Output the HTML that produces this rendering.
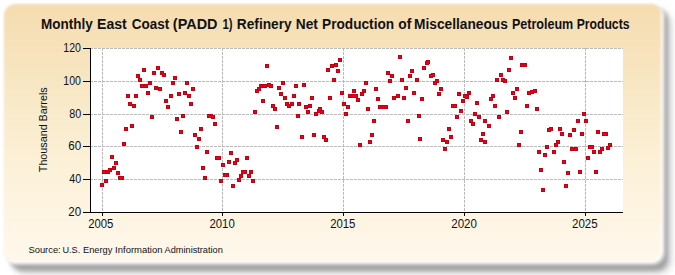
<!DOCTYPE html>
<html><head><meta charset="utf-8"><style>
html,body{margin:0;padding:0;width:675px;height:275px;overflow:hidden;background:#fff;}
.sh2{position:absolute;left:12px;top:11px;width:660px;height:263px;border-radius:14px;background:rgba(0,0,10,0.15);filter:blur(3px);}
.shadow{position:absolute;left:9.5px;top:8px;width:658px;height:263px;border-radius:12px;background:rgba(40,40,45,0.3);filter:blur(2.3px);}
.panel{position:absolute;left:3.5px;top:3.5px;width:659.5px;height:259.5px;border-radius:12px;filter:blur(0.9px);
background:linear-gradient(to bottom,#f6dcb0 0%,#f8e9c8 37%,#fcf0d7 60%,#fff8ec 100%);
box-shadow:inset -2px -2px 1.5px rgba(255,255,255,0.85), 1px 1px 2px 0.5px rgba(255,255,255,0.6), 0 0 1px rgba(140,130,90,0.5);}
svg{position:absolute;left:0;top:0;}
text{font-family:"Liberation Sans",sans-serif;fill:#111;}
</style></head><body>
<div class="sh2"></div><div class="shadow"></div><div class="panel"></div>
<svg width="675" height="275" viewBox="0 0 675 275" shape-rendering="crispEdges">
<rect x="91" y="48" width="532" height="164" fill="#fff"/>
<line x1="91" y1="48.5" x2="623" y2="48.5" stroke="#bababa" stroke-width="1" stroke-dasharray="3,1" stroke-dashoffset="1"/>
<line x1="91" y1="81.5" x2="623" y2="81.5" stroke="#bababa" stroke-width="1" stroke-dasharray="3,1" stroke-dashoffset="1"/>
<line x1="91" y1="114.5" x2="623" y2="114.5" stroke="#bababa" stroke-width="1" stroke-dasharray="3,1" stroke-dashoffset="1"/>
<line x1="91" y1="146.5" x2="623" y2="146.5" stroke="#bababa" stroke-width="1" stroke-dasharray="3,1" stroke-dashoffset="1"/>
<line x1="91" y1="179.5" x2="623" y2="179.5" stroke="#bababa" stroke-width="1" stroke-dasharray="3,1" stroke-dashoffset="1"/>
<line x1="102.5" y1="48" x2="102.5" y2="212" stroke="#bababa" stroke-width="1" stroke-dasharray="3,1"/>
<line x1="222.5" y1="48" x2="222.5" y2="212" stroke="#bababa" stroke-width="1" stroke-dasharray="3,1"/>
<line x1="343.5" y1="48" x2="343.5" y2="212" stroke="#bababa" stroke-width="1" stroke-dasharray="3,1"/>
<line x1="464.5" y1="48" x2="464.5" y2="212" stroke="#bababa" stroke-width="1" stroke-dasharray="3,1"/>
<line x1="585.5" y1="48" x2="585.5" y2="212" stroke="#bababa" stroke-width="1" stroke-dasharray="3,1"/>
<path d="M142 68h4v4h-4zM156 66h4v4h-4zM136 74h4v4h-4zM152 71h4v4h-4zM160 71h4v4h-4zM162 73h4v4h-4zM173 76h4v4h-4zM138 78h4v4h-4zM148 81h4v4h-4zM171 81h4v4h-4zM185 81h4v4h-4zM140 84h4v4h-4zM144 84h4v4h-4zM154 86h4v4h-4zM158 87h4v4h-4zM191 87h4v4h-4zM146 91h4v4h-4zM126 94h4v4h-4zM134 94h4v4h-4zM169 94h4v4h-4zM177 92h4v4h-4zM183 91h4v4h-4zM187 94h4v4h-4zM164 99h4v4h-4zM128 102h4v4h-4zM132 104h4v4h-4zM166 105h4v4h-4zM189 102h4v4h-4zM150 115h4v4h-4zM175 117h4v4h-4zM181 114h4v4h-4zM207 114h4v4h-4zM211 115h4v4h-4zM213 122h4v4h-4zM124 127h4v4h-4zM130 124h4v4h-4zM179 130h4v4h-4zM199 127h4v4h-4zM193 133h4v4h-4zM197 137h4v4h-4zM122 142h4v4h-4zM195 145h4v4h-4zM205 150h4v4h-4zM110 155h4v4h-4zM114 161h4v4h-4zM102 170h4v4h-4zM106 170h4v4h-4zM108 168h4v4h-4zM112 166h4v4h-4zM116 171h4v4h-4zM118 176h4v4h-4zM120 176h4v4h-4zM104 179h4v4h-4zM100 183h4v4h-4zM215 156h4v4h-4zM217 156h4v4h-4zM221 163h4v4h-4zM201 166h4v4h-4zM203 176h4v4h-4zM219 179h4v4h-4zM223 173h4v4h-4zM265 64h4v4h-4zM338 58h4v4h-4zM330 64h4v4h-4zM334 63h4v4h-4zM326 68h4v4h-4zM336 69h4v4h-4zM332 78h4v4h-4zM255 89h4v4h-4zM257 87h4v4h-4zM259 84h4v4h-4zM263 84h4v4h-4zM267 83h4v4h-4zM269 84h4v4h-4zM281 81h4v4h-4zM277 86h4v4h-4zM294 84h4v4h-4zM302 83h4v4h-4zM279 92h4v4h-4zM283 96h4v4h-4zM292 94h4v4h-4zM310 96h4v4h-4zM328 96h4v4h-4zM340 91h4v4h-4zM348 94h4v4h-4zM352 94h4v4h-4zM352 89h4v4h-4zM261 99h4v4h-4zM271 104h4v4h-4zM273 107h4v4h-4zM285 102h4v4h-4zM287 104h4v4h-4zM290 102h4v4h-4zM297 102h4v4h-4zM304 105h4v4h-4zM308 104h4v4h-4zM306 110h4v4h-4zM318 107h4v4h-4zM317 109h4v4h-4zM320 110h4v4h-4zM314 112h4v4h-4zM253 110h4v4h-4zM296 114h4v4h-4zM342 102h4v4h-4zM346 105h4v4h-4zM344 112h4v4h-4zM275 125h4v4h-4zM300 135h4v4h-4zM312 133h4v4h-4zM322 135h4v4h-4zM324 138h4v4h-4zM229 151h4v4h-4zM235 158h4v4h-4zM233 161h4v4h-4zM227 160h4v4h-4zM245 156h4v4h-4zM225 173h4v4h-4zM241 170h4v4h-4zM243 170h4v4h-4zM249 170h4v4h-4zM239 174h4v4h-4zM247 174h4v4h-4zM237 178h4v4h-4zM251 179h4v4h-4zM231 184h4v4h-4zM398 55h4v4h-4zM425 61h4v4h-4zM426 60h4v4h-4zM422 66h4v4h-4zM410 69h4v4h-4zM386 71h4v4h-4zM390 74h4v4h-4zM408 74h4v4h-4zM429 74h4v4h-4zM431 73h4v4h-4zM388 79h4v4h-4zM400 78h4v4h-4zM415 78h4v4h-4zM433 81h4v4h-4zM435 79h4v4h-4zM364 81h4v4h-4zM374 87h4v4h-4zM404 86h4v4h-4zM439 87h4v4h-4zM362 89h4v4h-4zM360 92h4v4h-4zM351 94h4v4h-4zM354 94h4v4h-4zM412 91h4v4h-4zM437 92h4v4h-4zM457 92h4v4h-4zM467 91h4v4h-4zM463 94h4v4h-4zM465 95h4v4h-4zM396 94h4v4h-4zM392 96h4v4h-4zM402 96h4v4h-4zM376 97h4v4h-4zM420 97h4v4h-4zM356 98h4v4h-4zM461 99h4v4h-4zM366 107h4v4h-4zM378 105h4v4h-4zM381 105h4v4h-4zM384 105h4v4h-4zM451 104h4v4h-4zM453 104h4v4h-4zM459 109h4v4h-4zM475 101h4v4h-4zM473 112h4v4h-4zM477 115h4v4h-4zM469 119h4v4h-4zM471 122h4v4h-4zM483 119h4v4h-4zM417 114h4v4h-4zM455 115h4v4h-4zM372 119h4v4h-4zM406 119h4v4h-4zM447 127h4v4h-4zM370 133h4v4h-4zM449 135h4v4h-4zM368 140h4v4h-4zM418 137h4v4h-4zM441 138h4v4h-4zM445 140h4v4h-4zM358 143h4v4h-4zM443 147h4v4h-4zM481 132h4v4h-4zM479 138h4v4h-4zM483 140h4v4h-4zM509 56h4v4h-4zM520 63h4v4h-4zM523 63h4v4h-4zM507 68h4v4h-4zM499 73h4v4h-4zM495 78h4v4h-4zM501 78h4v4h-4zM503 79h4v4h-4zM515 87h4v4h-4zM511 91h4v4h-4zM527 91h4v4h-4zM530 90h4v4h-4zM533 89h4v4h-4zM491 94h4v4h-4zM489 97h4v4h-4zM513 96h4v4h-4zM493 104h4v4h-4zM525 104h4v4h-4zM535 107h4v4h-4zM505 110h4v4h-4zM497 115h4v4h-4zM582 112h4v4h-4zM584 119h4v4h-4zM576 119h4v4h-4zM487 124h4v4h-4zM519 130h4v4h-4zM547 128h4v4h-4zM549 127h4v4h-4zM558 127h4v4h-4zM560 132h4v4h-4zM572 128h4v4h-4zM568 133h4v4h-4zM580 132h4v4h-4zM596 130h4v4h-4zM602 132h4v4h-4zM604 132h4v4h-4zM517 143h4v4h-4zM545 145h4v4h-4zM554 143h4v4h-4zM556 140h4v4h-4zM570 147h4v4h-4zM574 147h4v4h-4zM588 145h4v4h-4zM590 145h4v4h-4zM600 147h4v4h-4zM606 146h4v4h-4zM608 143h4v4h-4zM537 150h4v4h-4zM543 153h4v4h-4zM552 150h4v4h-4zM592 150h4v4h-4zM598 150h4v4h-4zM586 156h4v4h-4zM562 160h4v4h-4zM539 168h4v4h-4zM566 171h4v4h-4zM578 170h4v4h-4zM594 170h4v4h-4zM564 184h4v4h-4zM541 188h4v4h-4zM209 114h4v4h-4z" fill="#c4000f"/>
<path d="M143 69h2v2h-2zM157 67h2v2h-2zM137 75h2v2h-2zM153 72h2v2h-2zM161 72h2v2h-2zM163 74h2v2h-2zM174 77h2v2h-2zM139 79h2v2h-2zM149 82h2v2h-2zM172 82h2v2h-2zM186 82h2v2h-2zM141 85h2v2h-2zM145 85h2v2h-2zM155 87h2v2h-2zM159 88h2v2h-2zM192 88h2v2h-2zM147 92h2v2h-2zM127 95h2v2h-2zM135 95h2v2h-2zM170 95h2v2h-2zM178 93h2v2h-2zM184 92h2v2h-2zM188 95h2v2h-2zM165 100h2v2h-2zM129 103h2v2h-2zM133 105h2v2h-2zM167 106h2v2h-2zM190 103h2v2h-2zM151 116h2v2h-2zM176 118h2v2h-2zM182 115h2v2h-2zM208 115h2v2h-2zM212 116h2v2h-2zM214 123h2v2h-2zM125 128h2v2h-2zM131 125h2v2h-2zM180 131h2v2h-2zM200 128h2v2h-2zM194 134h2v2h-2zM198 138h2v2h-2zM123 143h2v2h-2zM196 146h2v2h-2zM206 151h2v2h-2zM111 156h2v2h-2zM115 162h2v2h-2zM103 171h2v2h-2zM107 171h2v2h-2zM109 169h2v2h-2zM113 167h2v2h-2zM117 172h2v2h-2zM119 177h2v2h-2zM121 177h2v2h-2zM105 180h2v2h-2zM101 184h2v2h-2zM216 157h2v2h-2zM218 157h2v2h-2zM222 164h2v2h-2zM202 167h2v2h-2zM204 177h2v2h-2zM220 180h2v2h-2zM224 174h2v2h-2zM266 65h2v2h-2zM339 59h2v2h-2zM331 65h2v2h-2zM335 64h2v2h-2zM327 69h2v2h-2zM337 70h2v2h-2zM333 79h2v2h-2zM256 90h2v2h-2zM258 88h2v2h-2zM260 85h2v2h-2zM264 85h2v2h-2zM268 84h2v2h-2zM270 85h2v2h-2zM282 82h2v2h-2zM278 87h2v2h-2zM295 85h2v2h-2zM303 84h2v2h-2zM280 93h2v2h-2zM284 97h2v2h-2zM293 95h2v2h-2zM311 97h2v2h-2zM329 97h2v2h-2zM341 92h2v2h-2zM349 95h2v2h-2zM353 95h2v2h-2zM353 90h2v2h-2zM262 100h2v2h-2zM272 105h2v2h-2zM274 108h2v2h-2zM286 103h2v2h-2zM288 105h2v2h-2zM291 103h2v2h-2zM298 103h2v2h-2zM305 106h2v2h-2zM309 105h2v2h-2zM307 111h2v2h-2zM319 108h2v2h-2zM318 110h2v2h-2zM321 111h2v2h-2zM315 113h2v2h-2zM254 111h2v2h-2zM297 115h2v2h-2zM343 103h2v2h-2zM347 106h2v2h-2zM345 113h2v2h-2zM276 126h2v2h-2zM301 136h2v2h-2zM313 134h2v2h-2zM323 136h2v2h-2zM325 139h2v2h-2zM230 152h2v2h-2zM236 159h2v2h-2zM234 162h2v2h-2zM228 161h2v2h-2zM246 157h2v2h-2zM226 174h2v2h-2zM242 171h2v2h-2zM244 171h2v2h-2zM250 171h2v2h-2zM240 175h2v2h-2zM248 175h2v2h-2zM238 179h2v2h-2zM252 180h2v2h-2zM232 185h2v2h-2zM399 56h2v2h-2zM426 62h2v2h-2zM427 61h2v2h-2zM423 67h2v2h-2zM411 70h2v2h-2zM387 72h2v2h-2zM391 75h2v2h-2zM409 75h2v2h-2zM430 75h2v2h-2zM432 74h2v2h-2zM389 80h2v2h-2zM401 79h2v2h-2zM416 79h2v2h-2zM434 82h2v2h-2zM436 80h2v2h-2zM365 82h2v2h-2zM375 88h2v2h-2zM405 87h2v2h-2zM440 88h2v2h-2zM363 90h2v2h-2zM361 93h2v2h-2zM352 95h2v2h-2zM355 95h2v2h-2zM413 92h2v2h-2zM438 93h2v2h-2zM458 93h2v2h-2zM468 92h2v2h-2zM464 95h2v2h-2zM466 96h2v2h-2zM397 95h2v2h-2zM393 97h2v2h-2zM403 97h2v2h-2zM377 98h2v2h-2zM421 98h2v2h-2zM357 99h2v2h-2zM462 100h2v2h-2zM367 108h2v2h-2zM379 106h2v2h-2zM382 106h2v2h-2zM385 106h2v2h-2zM452 105h2v2h-2zM454 105h2v2h-2zM460 110h2v2h-2zM476 102h2v2h-2zM474 113h2v2h-2zM478 116h2v2h-2zM470 120h2v2h-2zM472 123h2v2h-2zM484 120h2v2h-2zM418 115h2v2h-2zM456 116h2v2h-2zM373 120h2v2h-2zM407 120h2v2h-2zM448 128h2v2h-2zM371 134h2v2h-2zM450 136h2v2h-2zM369 141h2v2h-2zM419 138h2v2h-2zM442 139h2v2h-2zM446 141h2v2h-2zM359 144h2v2h-2zM444 148h2v2h-2zM482 133h2v2h-2zM480 139h2v2h-2zM484 141h2v2h-2zM510 57h2v2h-2zM521 64h2v2h-2zM524 64h2v2h-2zM508 69h2v2h-2zM500 74h2v2h-2zM496 79h2v2h-2zM502 79h2v2h-2zM504 80h2v2h-2zM516 88h2v2h-2zM512 92h2v2h-2zM528 92h2v2h-2zM531 91h2v2h-2zM534 90h2v2h-2zM492 95h2v2h-2zM490 98h2v2h-2zM514 97h2v2h-2zM494 105h2v2h-2zM526 105h2v2h-2zM536 108h2v2h-2zM506 111h2v2h-2zM498 116h2v2h-2zM583 113h2v2h-2zM585 120h2v2h-2zM577 120h2v2h-2zM488 125h2v2h-2zM520 131h2v2h-2zM548 129h2v2h-2zM550 128h2v2h-2zM559 128h2v2h-2zM561 133h2v2h-2zM573 129h2v2h-2zM569 134h2v2h-2zM581 133h2v2h-2zM597 131h2v2h-2zM603 133h2v2h-2zM605 133h2v2h-2zM518 144h2v2h-2zM546 146h2v2h-2zM555 144h2v2h-2zM557 141h2v2h-2zM571 148h2v2h-2zM575 148h2v2h-2zM589 146h2v2h-2zM591 146h2v2h-2zM601 148h2v2h-2zM607 147h2v2h-2zM609 144h2v2h-2zM538 151h2v2h-2zM544 154h2v2h-2zM553 151h2v2h-2zM593 151h2v2h-2zM599 151h2v2h-2zM587 157h2v2h-2zM563 161h2v2h-2zM540 169h2v2h-2zM567 172h2v2h-2zM579 171h2v2h-2zM595 171h2v2h-2zM565 185h2v2h-2zM542 189h2v2h-2zM210 116h2v2h-2z" fill="#e8001c"/>
<line x1="90.5" y1="48" x2="90.5" y2="213" stroke="#000" stroke-width="1"/>
<line x1="83" y1="212.5" x2="623" y2="212.5" stroke="#000" stroke-width="1"/>
<line x1="83" y1="48.5" x2="91" y2="48.5" stroke="#000" stroke-width="1"/>
<line x1="83" y1="81.5" x2="91" y2="81.5" stroke="#000" stroke-width="1"/>
<line x1="83" y1="114.5" x2="91" y2="114.5" stroke="#000" stroke-width="1"/>
<line x1="83" y1="146.5" x2="91" y2="146.5" stroke="#000" stroke-width="1"/>
<line x1="83" y1="179.5" x2="91" y2="179.5" stroke="#000" stroke-width="1"/>
<line x1="83" y1="212.5" x2="91" y2="212.5" stroke="#000" stroke-width="1"/>
<line x1="102.5" y1="212" x2="102.5" y2="216" stroke="#000" stroke-width="1"/>
<line x1="222.5" y1="212" x2="222.5" y2="216" stroke="#000" stroke-width="1"/>
<line x1="343.5" y1="212" x2="343.5" y2="216" stroke="#000" stroke-width="1"/>
<line x1="464.5" y1="212" x2="464.5" y2="216" stroke="#000" stroke-width="1"/>
<line x1="585.5" y1="212" x2="585.5" y2="216" stroke="#000" stroke-width="1"/>
<text x="63.32" y="51.8" font-size="12" font-weight="normal" textLength="17.61" lengthAdjust="spacingAndGlyphs">120</text>
<text x="63.32" y="84.8" font-size="12" font-weight="normal" textLength="17.61" lengthAdjust="spacingAndGlyphs">100</text>
<text x="69.30" y="117.8" font-size="12" font-weight="normal" textLength="11.92" lengthAdjust="spacingAndGlyphs">80</text>
<text x="68.33" y="149.8" font-size="12" font-weight="normal" textLength="12.91" lengthAdjust="spacingAndGlyphs">60</text>
<text x="69.30" y="182.8" font-size="12" font-weight="normal" textLength="11.92" lengthAdjust="spacingAndGlyphs">40</text>
<text x="68.33" y="215.8" font-size="12" font-weight="normal" textLength="12.91" lengthAdjust="spacingAndGlyphs">20</text>
<text x="88.16" y="228" font-size="12" font-weight="normal" textLength="25.21" lengthAdjust="spacingAndGlyphs">2005</text>
<text x="209.45" y="228" font-size="12" font-weight="normal" textLength="25.31" lengthAdjust="spacingAndGlyphs">2010</text>
<text x="330.15" y="228" font-size="12" font-weight="normal" textLength="25.31" lengthAdjust="spacingAndGlyphs">2015</text>
<text x="451.24" y="228" font-size="12" font-weight="normal" textLength="25.74" lengthAdjust="spacingAndGlyphs">2020</text>
<text x="572.04" y="228" font-size="12" font-weight="normal" textLength="25.63" lengthAdjust="spacingAndGlyphs">2025</text>
<text x="-172.20" y="47.2" font-size="11" font-weight="normal" textLength="84.83" lengthAdjust="spacingAndGlyphs" transform="rotate(-90)">Thousand Barrels</text>
<text x="28.41" y="253" font-size="9.5" font-weight="normal" textLength="32.33" lengthAdjust="spacingAndGlyphs">Source:</text>
<text x="62.44" y="253" font-size="9.5" font-weight="normal" textLength="17.83" lengthAdjust="spacingAndGlyphs">U.S.</text>
<text x="83.03" y="253" font-size="9.5" font-weight="normal" textLength="29.28" lengthAdjust="spacingAndGlyphs">Energy</text>
<text x="115.10" y="253" font-size="9.5" font-weight="normal" textLength="47.43" lengthAdjust="spacingAndGlyphs">Information</text>
<text x="164.60" y="253" font-size="9.5" font-weight="normal" textLength="58.20" lengthAdjust="spacingAndGlyphs">Administration</text>
<text x="40.94" y="29" font-size="14" font-weight="bold" textLength="51.73" lengthAdjust="spacingAndGlyphs">Monthly</text>
<text x="96.99" y="29" font-size="14" font-weight="bold" textLength="29.78" lengthAdjust="spacingAndGlyphs">East</text>
<text x="131.84" y="29" font-size="14" font-weight="bold" textLength="37.47" lengthAdjust="spacingAndGlyphs">Coast</text>
<text x="172.87" y="29" font-size="14" font-weight="bold" textLength="44.64" lengthAdjust="spacingAndGlyphs">(PADD</text>
<text x="222.49" y="29" font-size="14" font-weight="bold" textLength="10.08" lengthAdjust="spacingAndGlyphs">1)</text>
<text x="236.82" y="29" font-size="14" font-weight="bold" textLength="54.91" lengthAdjust="spacingAndGlyphs">Refinery</text>
<text x="295.72" y="29" font-size="14" font-weight="bold" textLength="22.15" lengthAdjust="spacingAndGlyphs">Net</text>
<text x="322.02" y="29" font-size="14" font-weight="bold" textLength="72.15" lengthAdjust="spacingAndGlyphs">Production</text>
<text x="398.30" y="29" font-size="14" font-weight="bold" textLength="13.02" lengthAdjust="spacingAndGlyphs">of</text>
<text x="414.02" y="29" font-size="14" font-weight="bold" textLength="93.87" lengthAdjust="spacingAndGlyphs">Miscellaneous</text>
<text x="511.90" y="29" font-size="14" font-weight="bold" textLength="61.32" lengthAdjust="spacingAndGlyphs">Petroleum</text>
<text x="576.63" y="29" font-size="14" font-weight="bold" textLength="52.87" lengthAdjust="spacingAndGlyphs">Products</text>
</svg>
</body></html>
